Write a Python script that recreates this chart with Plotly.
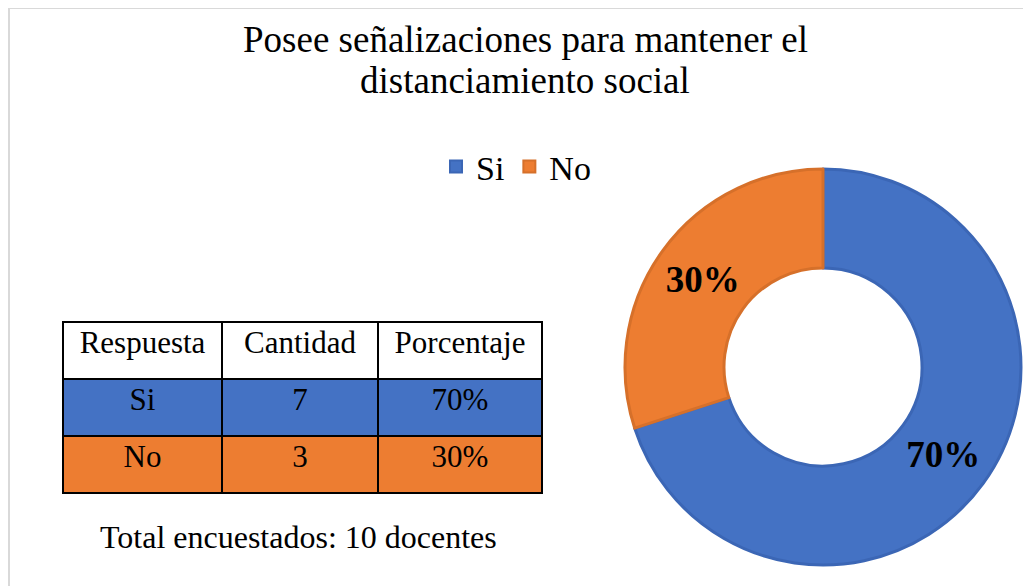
import plotly.graph_objects as go

OFF = 8  # the page body keeps its default 8px margin
W, H = 1031 - OFF, 586 - OFF

respuestas = ["Si", "No"]
cantidades = [7, 3]
porcentajes = ["70%", "30%"]
columnas = ["Respuesta", "Cantidad", "Porcentaje"]
colores = ["#4472c4", "#ed7d31"]
bordes = ["#3b66b5", "#d6702a"]

titulo = ["Posee señalizaciones para mantener el", "distanciamiento social"]
nota = "Total encuestados: 10 docentes"
serif = "Liberation Serif"


def px_x(x):
    return (x - OFF) / W


def px_y(y):
    return 1 - (y - OFF) / H


fig = go.Figure()

fig.add_trace(go.Pie(
    labels=respuestas,
    values=cantidades,
    hole=0.5,
    sort=False,
    direction="clockwise",
    rotation=0,
    marker=dict(colors=colores, line=dict(color=bordes, width=3)),
    textinfo="percent",
    textposition="inside",
    insidetextorientation="horizontal",
    textfont=dict(family=serif, size=37, color="black", weight="bold"),
    domain=dict(x=[px_x(625), px_x(1021)], y=[px_y(566), px_y(168)]),
))

fig.add_trace(go.Table(
    domain=dict(x=[px_x(63), px_x(542)], y=[px_y(570), px_y(322)]),
    columnwidth=[159, 156, 164],
    header=dict(
        values=columnas,
        fill_color="white",
        line=dict(color="black", width=2),
        font=dict(family=serif, size=31, color="black"),
        align="center",
        height=57,
    ),
    cells=dict(
        values=[respuestas, cantidades, porcentajes],
        fill_color=[colores, colores, colores],
        line=dict(color="black", width=2),
        font=dict(family=serif, size=31, color="black"),
        align="center",
        height=57,
    ),
))

for linea, yc in zip(titulo, [40, 80]):
    fig.add_annotation(
        text=linea, x=px_x(525), y=px_y(yc), xref="paper", yref="paper",
        xanchor="center", yanchor="middle", showarrow=False,
        font=dict(family=serif, size=37, color="black"),
    )
fig.add_annotation(
    text=nota, x=px_x(298), y=px_y(537), xref="paper", yref="paper",
    xanchor="center", yanchor="middle", showarrow=False,
    font=dict(family=serif, size=32, color="black"),
)

fig.add_shape(
    type="rect", xref="paper", yref="paper",
    x0=px_x(9), x1=px_x(1060), y0=px_y(620), y1=px_y(8),
    line=dict(color="#d9d9d9", width=2), fillcolor="rgba(0,0,0,0)",
)

fig.update_layout(
    width=W, height=H,
    margin=dict(l=0, r=0, t=0, b=0),
    paper_bgcolor="white",
    plot_bgcolor="white",
    showlegend=True,
    legend=dict(
        orientation="h", x=px_x(516), xanchor="center",
        y=px_y(167), yanchor="middle",
        font=dict(family=serif, size=34, color="black"),
        itemsizing="constant",
    ),
)

fig.write_html("out.html")
